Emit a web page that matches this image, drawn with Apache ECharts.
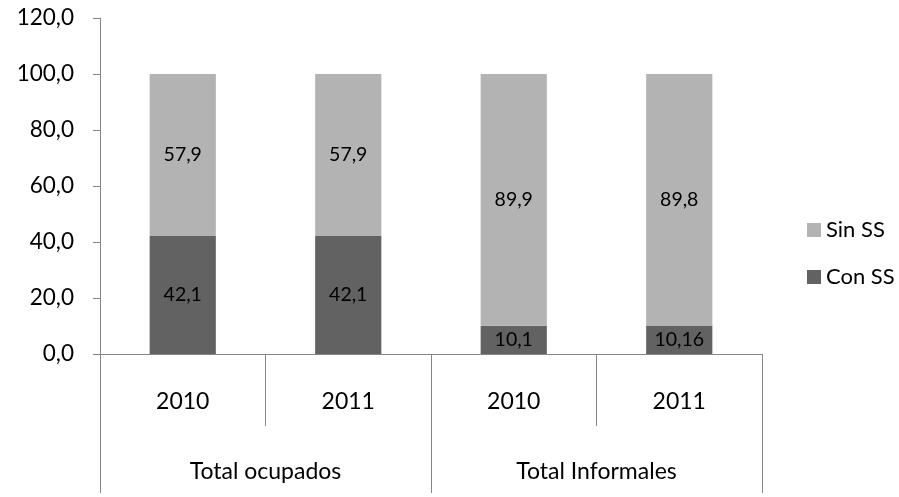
<!DOCTYPE html>
<html>
<head>
<meta charset="utf-8">
<script src="https://cdn.jsdelivr.net/npm/echarts@6/dist/echarts.min.js"></script>
<style>
html,body{margin:0;padding:0;background:#fff;}
#c{width:899px;height:497px;}
</style>
</head>
<body>
<div id="c"></div>
<script>
var years = ['2010', '2011', '2010', '2011'];
var groups = ['Total ocupados', 'Total Informales'];
var conSS = [42.1, 42.1, 10.1, 10.16];
var sinSS = [57.9, 57.9, 89.9, 89.8];
var yTicks = { min: 0, max: 120, interval: 20 };

var FONT = 'Lato, "Open Sans", sans-serif';
var fmt = function (v) { return String(v).replace('.', ','); };
var axisColor = '#868686';

var chart = echarts.init(document.getElementById('c'), null, { renderer: 'canvas' });
chart.setOption({
  animation: false,
  backgroundColor: '#ffffff',
  grid: { left: 100, right: 137, top: 18, bottom: 143, containLabel: false },
  legend: {
    orient: 'vertical',
    left: 802,
    top: 214,
    itemWidth: 14,
    itemHeight: 14,
    itemGap: 25,
    icon: 'rect',
    textStyle: { fontFamily: FONT, fontSize: 22, color: '#000' },
    data: ['Sin SS', 'Con SS']
  },
  yAxis: {
    type: 'value',
    min: yTicks.min, max: yTicks.max, interval: yTicks.interval,
    axisLine: { show: true, lineStyle: { color: axisColor, width: 1 } },
    axisTick: { show: true, length: 7, lineStyle: { color: axisColor } },
    splitLine: { show: false },
    axisLabel: {
      margin: 26,
      fontFamily: FONT, fontSize: 22.5, color: '#000',
      formatter: function (v) { return v.toFixed(1).replace('.', ','); }
    }
  },
  xAxis: [
    {
      type: 'category',
      data: years,
      position: 'bottom',
      axisLine: { show: true, lineStyle: { color: axisColor, width: 1 } },
      axisTick: { show: true, length: 72, lineStyle: { color: axisColor } },
      axisLabel: { margin: 36, fontFamily: FONT, fontSize: 23, color: '#000' }
    },
    {
      type: 'category',
      data: groups,
      position: 'bottom',
      axisLine: { show: true, lineStyle: { color: axisColor, width: 1 } },
      axisTick: { show: true, length: 139, lineStyle: { color: axisColor } },
      axisLabel: { margin: 106, fontFamily: FONT, fontSize: 23, color: '#000' }
    }
  ],
  series: [
    {
      name: 'Con SS',
      type: 'bar',
      stack: 'total',
      xAxisIndex: 0,
      barCategoryGap: '60%',
      data: conSS,
      itemStyle: { color: '#626262' },
      label: {
        show: true, position: 'inside',
        fontFamily: FONT, fontSize: 19.5, color: '#000',
        formatter: function (p) { return fmt(p.value); }
      }
    },
    {
      name: 'Sin SS',
      type: 'bar',
      stack: 'total',
      xAxisIndex: 0,
      barCategoryGap: '60%',
      data: sinSS,
      itemStyle: { color: '#b3b3b3' },
      label: {
        show: true, position: 'inside',
        fontFamily: FONT, fontSize: 19.5, color: '#000',
        formatter: function (p) { return fmt(p.value); }
      }
    }
  ]
});
</script>
</body>
</html>
